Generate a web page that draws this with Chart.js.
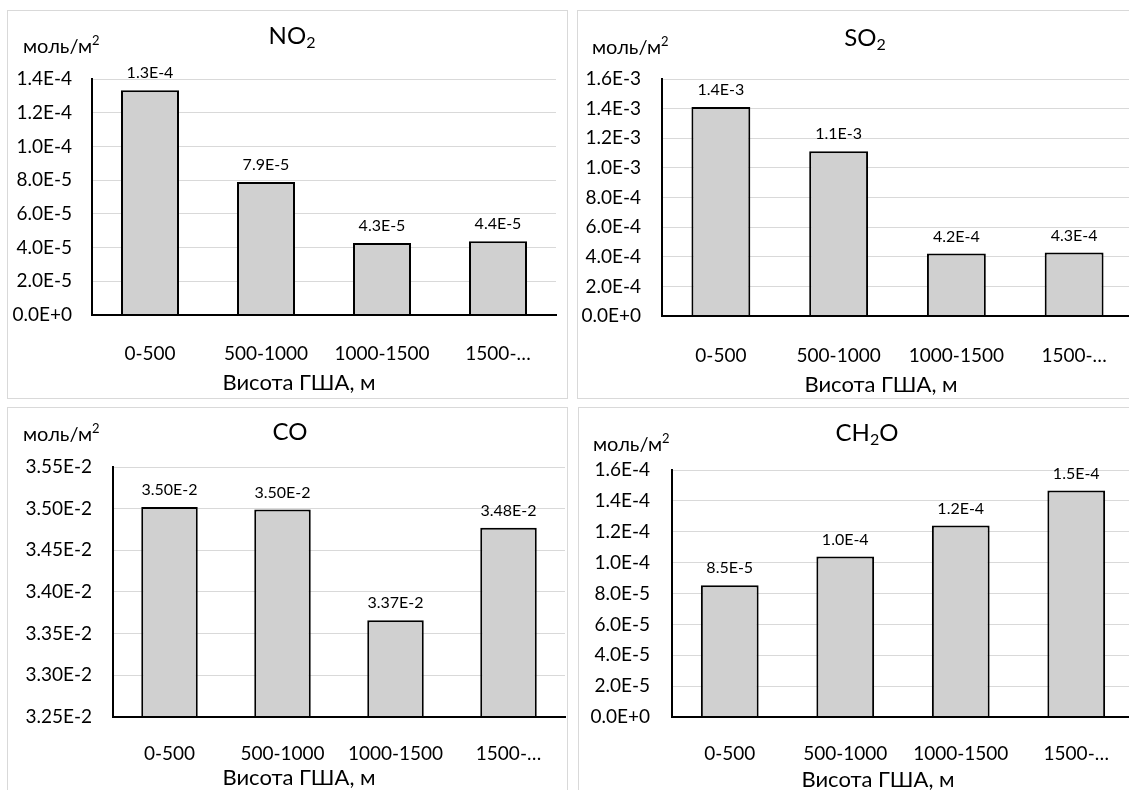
<!DOCTYPE html>
<html>
<head>
<meta charset="utf-8">
<script src="https://cdn.jsdelivr.net/npm/chart.js@4.4.1/dist/chart.umd.min.js"></script>
<style>
  html, body { margin: 0; padding: 0; background: #fff; overflow: hidden; }
  body { width: 1129px; height: 790px; position: relative; }
  .frame { position: absolute; box-sizing: border-box; border: 1px solid #d9d9d9; }
  canvas { position: absolute; }
</style>
</head>
<body>
<script>
// values (моль/м²)
const categories = ["0-500", "500-1000", "1000-1500", "1500-…"];

const no2Values = [1.333e-4, 7.89e-5, 4.27e-5, 4.37e-5];
const so2Values = [1.411e-3, 1.112e-3, 4.22e-4, 4.29e-4];
const coValues = [3.502e-2, 3.499e-2, 3.366e-2, 3.477e-2];
const ch2oValues = [8.54e-5, 1.04e-4, 1.241e-4, 1.468e-4];

const no2Ticks = [0, 2e-5, 4e-5, 6e-5, 8e-5, 1e-4, 1.2e-4, 1.4e-4];
const so2Ticks = [0, 2e-4, 4e-4, 6e-4, 8e-4, 1e-3, 1.2e-3, 1.4e-3, 1.6e-3];
const coTicks = [0.0325, 0.033, 0.0335, 0.034, 0.0345, 0.035, 0.0355];
const ch2oTicks = [0, 2e-5, 4e-5, 6e-5, 8e-5, 1e-4, 1.2e-4, 1.4e-4, 1.6e-4];

const unitLabel = [["моль/м"], ["2", "sup"]];
const xTitle = "Висота ГША, м";

const FONT = "Lato, 'Open Sans', sans-serif";

// page layout of the four panels: box = [left, top, width, height], plot = [left, right, top, bottom]
const panels = [
  { values: no2Values, ticks: no2Ticks, digits: 1, title: [["NO"], ["2", "sub"]],
    box: [7, 10, 561, 389], plot: [92, 556, 79, 315], tickPad: 20, catY: 345,
    titleAt: [292, 36], unitAt: [23, 47], axisAt: [299, 383] },
  { values: so2Values, ticks: so2Ticks, digits: 1, title: [["SO"], ["2", "sub"]],
    box: [577, 10, 563, 389], plot: [662, 1133, 79, 316], tickPad: 21, catY: 347,
    titleAt: [865, 38], unitAt: [592, 48], axisAt: [881, 385] },
  { values: coValues, ticks: coTicks, digits: 2, title: [["CO"]],
    box: [7, 407, 561, 400], plot: [113, 565, 467, 717], tickPad: 21, catY: 745,
    titleAt: [290, 432], unitAt: [23, 435], axisAt: [299, 778] },
  { values: ch2oValues, ticks: ch2oTicks, digits: 1, title: [["CH"], ["2", "sub"], ["O"]],
    box: [578, 407, 562, 400], plot: [672, 1134, 470, 717], tickPad: 22, catY: 745,
    titleAt: [867, 433], unitAt: [593, 445], axisAt: [878, 780] }
];

const fmt = (v, d) => v.toExponential(d).toUpperCase();

// draws text runs with sub/superscripts, x is the left edge
function drawRuns(ctx, runs, x, y, size, center) {
  const big = size + "px " + FONT, small = Math.round(size * 0.65) + "px " + FONT;
  if (center) {
    let w = 0;
    runs.forEach(([t, kind]) => { ctx.font = kind ? small : big; w += ctx.measureText(t).width; });
    x -= w / 2;
  }
  runs.forEach(([t, kind]) => {
    ctx.font = kind ? small : big;
    const dy = kind === "sub" ? size * 0.3 : kind === "sup" ? -size * 0.3 : 0;
    ctx.fillText(t, x, y + dy);
    x += ctx.measureText(t).width;
  });
}

function panelText(p) {
  return {
    id: "panelText",
    afterDatasetsDraw(chart) {
      const ctx = chart.ctx;
      ctx.save();
      ctx.fillStyle = "#000";
      ctx.textBaseline = "middle";
      ctx.textAlign = "center";
      ctx.font = "16px " + FONT;
      chart.getDatasetMeta(0).data.forEach((bar, i) => {
        ctx.fillText(fmt(p.values[i], p.digits), bar.x, bar.y - 17);
      });
      ctx.restore();
    },
    afterDraw(chart) {
      const ctx = chart.ctx;
      const ox = p.box[0], oy = p.box[1];
      ctx.save();
      ctx.fillStyle = "#000";
      ctx.textBaseline = "middle";
      ctx.textAlign = "left";
      drawRuns(ctx, p.title, p.titleAt[0] - ox, p.titleAt[1] - oy, 24, true);
      drawRuns(ctx, unitLabel, p.unitAt[0] - ox, p.unitAt[1] - oy, 20, false);
      ctx.textAlign = "center";
      ctx.font = "22px " + FONT;
      ctx.fillText(xTitle, p.axisAt[0] - ox, p.axisAt[1] - oy);
      ctx.restore();
    }
  };
}

panels.forEach(p => {
  const [bl, bt, bw, bh] = p.box;
  const [pl, pr, pt, pb] = p.plot;

  const frame = document.createElement("div");
  frame.className = "frame";
  Object.assign(frame.style, { left: bl + "px", top: bt + "px", width: bw + "px", height: bh + "px" });
  document.body.appendChild(frame);

  const canvas = document.createElement("canvas");
  canvas.width = bw;
  canvas.height = bh;
  Object.assign(canvas.style, { left: bl + "px", top: bt + "px", width: bw + "px", height: bh + "px" });
  document.body.appendChild(canvas);

  new Chart(canvas, {
    type: "bar",
    data: {
      labels: categories,
      datasets: [{
        data: p.values,
        backgroundColor: "#d0d0d0",
        borderColor: "#000",
        borderWidth: 2,
        categoryPercentage: 1,
        barPercentage: 0.5
      }]
    },
    options: {
      responsive: false,
      animation: false,
      devicePixelRatio: 1,
      layout: { padding: { left: 0, top: pt - bt, right: bl + bw - pr, bottom: 0 } },
      plugins: { legend: { display: false }, tooltip: { enabled: false } },
      scales: {
        x: {
          grid: { display: false },
          border: { display: true, color: "#000", width: 2, z: 1 },
          ticks: { color: "#000", font: { family: FONT, size: 19 }, padding: p.catY - pb - 11, maxRotation: 0, autoSkip: false },
          afterFit: s => { s.height = bt + bh - pb; }
        },
        y: {
          min: p.ticks[0],
          max: p.ticks[p.ticks.length - 1],
          afterBuildTicks: s => { s.ticks = p.ticks.map(v => ({ value: v })); },
          grid: { color: "#d9d9d9", lineWidth: 1, drawTicks: false },
          border: { display: true, color: "#000", width: 2, z: 1 },
          ticks: { color: "#000", font: { family: FONT, size: 19 }, padding: p.tickPad, callback: v => fmt(v, p.digits) },
          afterFit: s => { s.width = pl - bl; }
        }
      }
    },
    plugins: [panelText(p)]
  });
});
</script>
</body>
</html>
